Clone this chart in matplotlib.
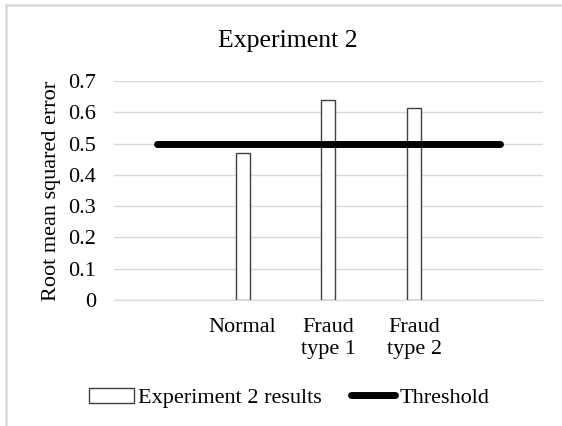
import numpy as np
import matplotlib
matplotlib.use('Agg')
import matplotlib.pyplot as plt
from matplotlib.lines import Line2D

plt.rcParams['font.family'] = ['Liberation Serif', 'DejaVu Serif']

# data
kategori = ['', 'Normal', 'Fraud\ntype 1', 'Fraud\ntype 2', '']
hasil = [np.nan, 0.470, 0.639, 0.614, np.nan]
threshold = [0.5, 0.5, 0.5, 0.5, 0.5]
yticks = [0, 0.1, 0.2, 0.3, 0.4, 0.5, 0.6, 0.7]

fig = plt.figure(figsize=(5.62, 4.26), dpi=100)
ax = fig.add_axes([0.2028, 0.2958, 0.7634, 0.5141])

xs = np.arange(len(kategori))
batang = ax.bar(xs, hasil, width=0.163, color='white', edgecolor='#404040',
                linewidth=1.0, label='Experiment 2 results', zorder=3)
garis, = ax.plot(xs, threshold, color='black', linewidth=5, solid_capstyle='round',
                 label='Threshold', zorder=4)

ax.set_xlim(-0.5, len(kategori) - 0.5)
ax.set_ylim(0, 0.7)
ax.set_yticks(yticks)
ax.set_yticklabels(['0' if v == 0 else f'{v:.1f}' for v in yticks])
ax.set_xticks(xs)
ax.set_xticklabels(kategori, linespacing=1.2)
ax.tick_params(axis='both', length=0, labelsize=16)
ax.tick_params(axis='y', pad=13)
ax.tick_params(axis='x', pad=13)
ax.grid(axis='y', color='#d9d9d9', linewidth=1, zorder=0)
ax.set_axisbelow(True)
for s in ['top', 'right', 'left']:
    ax.spines[s].set_visible(False)
ax.spines['bottom'].set_color('#d9d9d9')

ax.set_ylabel('Root mean squared error', fontsize=16, labelpad=5)

fig.text(0.512, 0.903, 'Experiment 2', fontsize=18.5, ha='center', va='center')

fig.legend([batang, garis], ['Experiment 2 results', 'Threshold'],
           loc='center', bbox_to_anchor=(0.515, 0.066), ncol=2, frameon=False,
           fontsize=16, handlelength=2.0, handletextpad=0.2, columnspacing=1.3,
           borderaxespad=0)

# garis bingkai
fig.add_artist(Line2D([0.011, 0.011], [0, 0.988], transform=fig.transFigure,
                      color='#d9d9d9', linewidth=1.8))
fig.add_artist(Line2D([0.011, 1], [0.988, 0.988], transform=fig.transFigure,
                      color='#d9d9d9', linewidth=1.8))

fig.savefig('out.png', dpi=100)
